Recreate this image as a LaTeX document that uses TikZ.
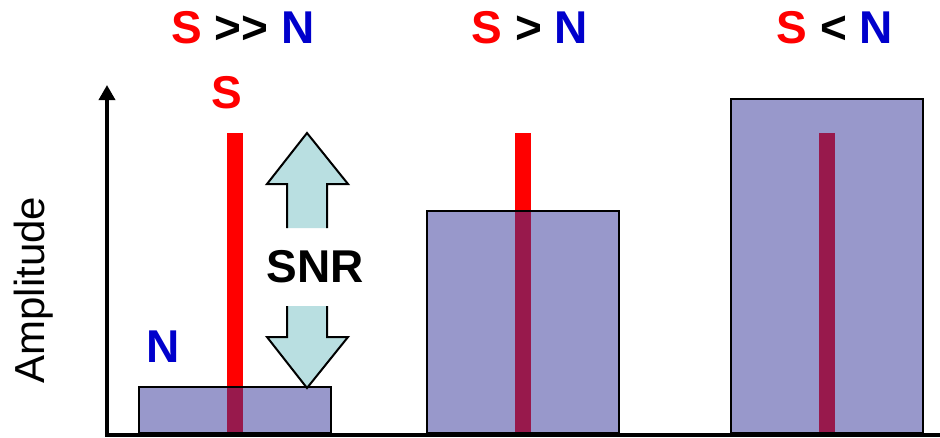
\documentclass[tikz,border=0pt]{standalone}
\usepackage{fontspec}
\setmainfont{Liberation Sans}
\usetikzlibrary{arrows.meta}
\definecolor{sred}{RGB}{255,0,0}
\definecolor{nblue}{RGB}{0,0,204}
\definecolor{boxfill}{RGB}{51,51,153}
\definecolor{arrfill}{RGB}{185,223,225}
\begin{document}
\begin{tikzpicture}[x=1pt,y=-1pt,
  lbl/.style={font=\bfseries\fontsize{46}{50}\selectfont, inner sep=0pt},
  sbar/.style={fill=sred, inner sep=0pt, minimum width=16pt, anchor=north},
  nbox/.style={draw=black, line width=2pt, fill=boxfill, fill opacity=0.5, inner sep=0pt, minimum width=192pt, anchor=south},
  snrarrow/.style={fill=arrfill, draw=black, line width=2pt, line join=miter},
  axis/.style={line width=3.5pt}]
\fill[white] (0,0) rectangle (940,437);
\useasboundingbox (0,0) rectangle (940,437);
% signal bars
\node[sbar, minimum height=303pt] (s1) at (235,133) {};
\node[sbar, minimum height=303pt] (s2) at (523,133) {};
\node[sbar, minimum height=303pt] (s3) at (827,133) {};
% noise boxes
\node[nbox, minimum height=46pt] (n1) at (235,434) {};
\node[nbox, minimum height=222pt] (n2) at (523,434) {};
\node[nbox, minimum height=334pt] (n3) at (826.5,434) {};
% axes
\coordinate (o) at (107,435);
\coordinate (oc) at (105.25,435);
\coordinate (ytop) at (107,85);
\coordinate (xend) at (940,435);
\draw[axis, -{Triangle[length=15pt,width=16pt]}] (o) -- (ytop);
\draw[axis] (oc) -- (xend);
% SNR arrows
\path[snrarrow] (287,228) -- (287,184) -- (267,184) -- (307,133) -- (348,184) -- (327,184) -- (327,228);
\path[snrarrow] (287,306) -- (287,337) -- (267,337) -- (307,388) -- (348,337) -- (327,337) -- (327,306);
% labels
\node[lbl] (snr) at (315,267) {SNR};
\node[lbl, text=sred] (slbl) at (227,93) {S};
\node[lbl, text=nblue] (nlbl) at (163,347) {N};
\node[lbl] (t1) at (243,28) {\textcolor{sred}{S} >\kern0pt> \textcolor{nblue}{N}};
\node[lbl] (t2) at (530,28) {\textcolor{sred}{S} > \textcolor{nblue}{N}};
\node[lbl] (t3) at (835,28) {\textcolor{sred}{S} < \textcolor{nblue}{N}};
\node[rotate=90, font=\fontsize{42}{46}\selectfont, inner sep=0pt] (amp) at (34,290) {Amplitude};
\end{tikzpicture}
\end{document}
